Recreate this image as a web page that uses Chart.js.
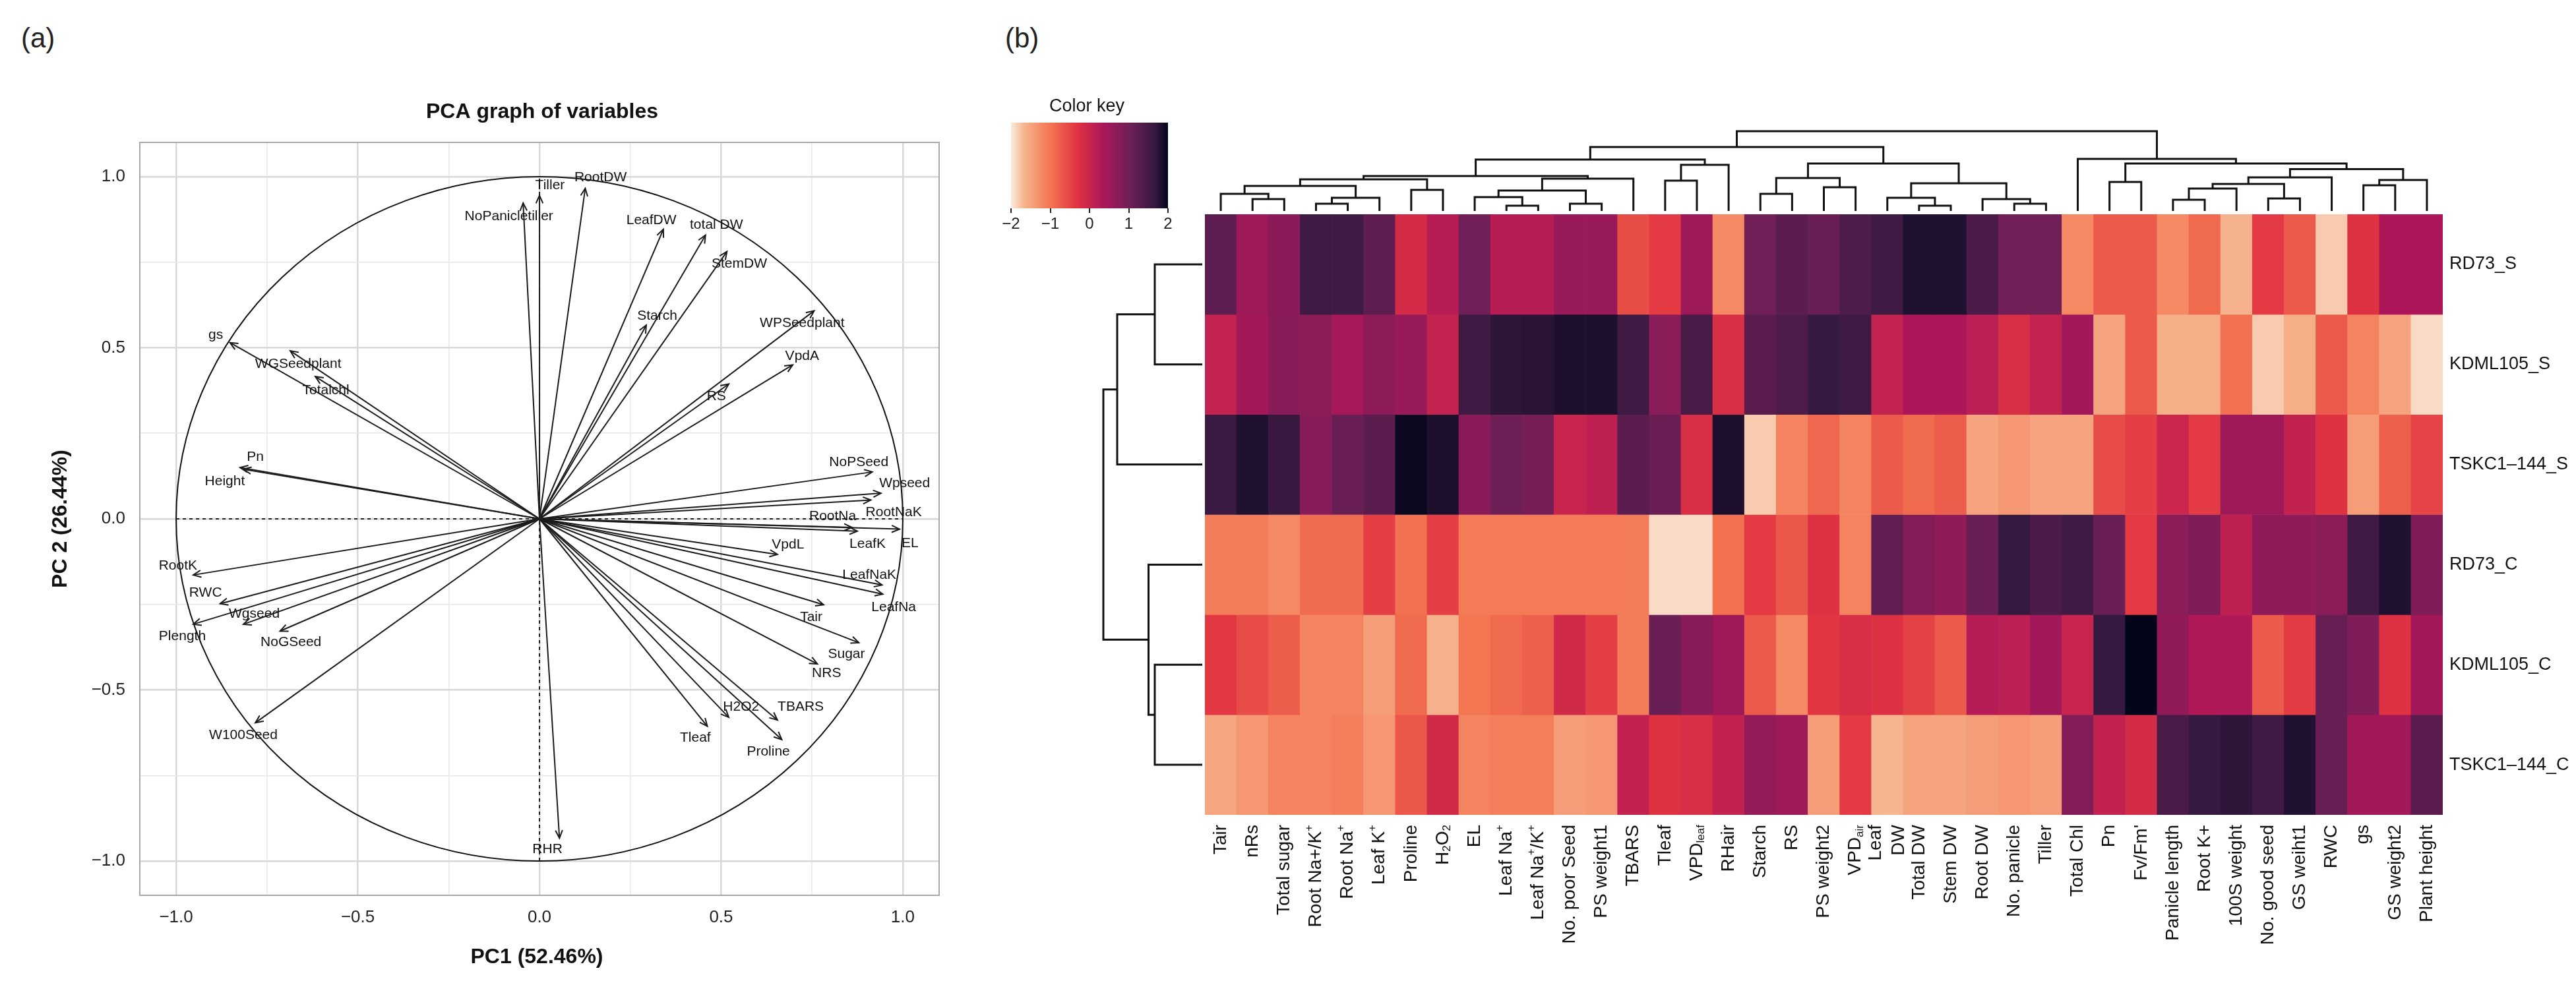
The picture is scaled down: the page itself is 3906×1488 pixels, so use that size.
<!DOCTYPE html>
<html>
<head>
<meta charset="utf-8">
<script src="https://cdn.jsdelivr.net/npm/chart.js@4.4.1/dist/chart.umd.min.js"></script>
<style>
  html, body { margin: 0; padding: 0; background: #fff; }
  body { width: 3906px; height: 1488px; position: relative; overflow: hidden; font-family: "Liberation Sans", Arial, sans-serif; }
  canvas { position: absolute; }
  .tag { position: absolute; font-size: 42px; line-height: 1; color: #222; }
</style>
</head>
<body>
<div class="tag" style="left:32px;top:37px">(a)</div>
<div class="tag" style="left:1524px;top:37px">(b)</div>
<canvas id="pca" width="1480" height="1488" style="left:0;top:0"></canvas>
<canvas id="key" width="300" height="230" style="left:1500px;top:140px"></canvas>
<canvas id="coltree" width="1877" height="145" style="left:1827px;top:180px"></canvas>
<canvas id="rowtree" width="167" height="911" style="left:1660px;top:325px"></canvas>
<canvas id="heat" width="2106" height="1188" style="left:1800px;top:300px"></canvas>
<script>
Chart.defaults.font.family = '"Liberation Sans", Arial, sans-serif';
const FONT = '"Liberation Sans", Arial, sans-serif';

// ---------- (a) PCA graph of variables ----------
const pcaVars = ['RootDW', 'Tiller', 'NoPanicletiller', 'LeafDW', 'total DW', 'StemDW', 'Starch',
  'WPSeedplant', 'VpdA', 'RS', 'gs', 'WGSeedplant', 'Totalchl', 'Pn', 'Height', 'NoPSeed', 'Wpseed',
  'RootNaK', 'RootNa', 'LeafK', 'EL', 'VpdL', 'LeafNaK', 'LeafNa', 'Tair', 'Sugar', 'NRS', 'H2O2',
  'TBARS', 'Tleaf', 'Proline', 'RHR', 'RootK', 'RWC', 'Wgseed', 'Plength', 'NoGSeed', 'W100Seed'];
const pc1 = [0.126, 0.0, -0.045, 0.341, 0.457, 0.516, 0.294, 0.756, 0.697, 0.521, -0.852, -0.686, -0.617,
  -0.824, -0.815, 0.916, 0.94, 0.912, 0.86, 0.875, 0.991, 0.655, 0.943, 0.945, 0.782, 0.879, 0.765, 0.521,
  0.655, 0.462, 0.667, 0.055, -0.953, -0.879, -0.815, -0.953, -0.714, -0.782];
const pc2 = [0.966, 0.945, 0.923, 0.846, 0.829, 0.781, 0.566, 0.608, 0.45, 0.394, 0.515, 0.491, 0.416,
  0.150, 0.145, 0.137, 0.075, 0.055, -0.025, -0.036, -0.03, -0.104, -0.193, -0.22, -0.251, -0.362, -0.424, -0.58,
  -0.588, -0.606, -0.645, -0.933, -0.164, -0.248, -0.308, -0.308, -0.328, -0.596];
// where each name is written
const labelX = [0.168, 0.029, -0.084, 0.308, 0.487, 0.55, 0.324, 0.723, 0.723, 0.487, -0.891, -0.664, -0.588,
  -0.782, -0.866, 0.879, 1.005, 0.975, 0.807, 0.903, 1.02, 0.684, 0.908, 0.975, 0.748, 0.845, 0.79, 0.555,
  0.719, 0.429, 0.63, 0.022, -0.995, -0.919, -0.785, -0.983, -0.684, -0.815];
const labelY = [0.998, 0.975, 0.883, 0.873, 0.859, 0.745, 0.592, 0.571, 0.476, 0.358, 0.538, 0.453, 0.375,
  0.181, 0.109, 0.166, 0.104, 0.019, 0.008, -0.074, -0.071, -0.076, -0.164, -0.258, -0.287, -0.395, -0.452, -0.549,
  -0.549, -0.64, -0.681, -0.966, -0.138, -0.217, -0.277, -0.344, -0.361, -0.632];
const gridTicks = [-1, -0.75, -0.5, -0.25, 0, 0.25, 0.5, 0.75, 1];
const unitR = 1;

function isMajor(v) { return Math.abs(v * 2 - Math.round(v * 2)) < 1e-9; }
function tickText(v) {
  if (!isMajor(v)) return '';
  return (v < 0 ? '\u2212' : '') + Math.abs(v).toFixed(1);
}
const gridOpts = {
  drawTicks: false,
  color: c => (c.tick && isMajor(c.tick.value)) ? '#D8D8D8' : '#E8E8E8',
  lineWidth: c => (c.tick && isMajor(c.tick.value)) ? 2.5 : 1.5
};

const pcaDecor = {
  id: 'pcaDecor',
  beforeDatasetsDraw(chart) {
    const { ctx, scales: { x, y } } = chart;
    const cx = x.getPixelForValue(0), cy = y.getPixelForValue(0);
    ctx.save();
    ctx.strokeStyle = '#111';
    ctx.lineWidth = 2;
    ctx.beginPath();
    ctx.ellipse(cx, cy, x.getPixelForValue(unitR) - cx, cy - y.getPixelForValue(unitR), 0, 0, Math.PI * 2);
    ctx.stroke();
    ctx.restore();
  },
  afterDatasetsDraw(chart) {
    const { ctx, scales: { x, y } } = chart;
    const ox = x.getPixelForValue(0), oy = y.getPixelForValue(0);
    ctx.save();
    ctx.strokeStyle = '#1b1b1b';
    ctx.lineWidth = 2;
    pcaVars.forEach((n, i) => {
      const tx = x.getPixelForValue(pc1[i]), ty = y.getPixelForValue(pc2[i]);
      const a = Math.atan2(ty - oy, tx - ox);
      ctx.beginPath();
      ctx.moveTo(tx - 13 * Math.cos(a - 0.42), ty - 13 * Math.sin(a - 0.42));
      ctx.lineTo(tx, ty);
      ctx.lineTo(tx - 13 * Math.cos(a + 0.42), ty - 13 * Math.sin(a + 0.42));
      ctx.stroke();
    });
    ctx.fillStyle = '#111';
    ctx.font = '21px ' + FONT;
    ctx.textAlign = 'center';
    ctx.textBaseline = 'middle';
    pcaVars.forEach((n, i) => {
      ctx.fillText(n, x.getPixelForValue(labelX[i]), y.getPixelForValue(labelY[i]));
    });
    ctx.restore();
  },
  afterDraw(chart) {
    const { ctx, chartArea: a } = chart;
    ctx.save();
    ctx.strokeStyle = '#A8A8A8';
    ctx.lineWidth = 2;
    ctx.strokeRect(a.left, a.top, a.right - a.left, a.bottom - a.top);
    ctx.fillStyle = '#111';
    ctx.textAlign = 'center';
    ctx.textBaseline = 'middle';
    ctx.font = 'bold 32px ' + FONT;
    const mx = (a.left + a.right) / 2, my = (a.top + a.bottom) / 2;
    ctx.fillText('PCA graph of variables', mx + 4, 170);
    ctx.fillText('PC1 (52.46%)', mx - 4, 1452);
    ctx.translate(92, my);
    ctx.rotate(-Math.PI / 2);
    ctx.fillText('PC 2 (26.44%)', 0, 0);
    ctx.restore();
  }
};

const dashed = { showLine: true, borderColor: '#222', borderWidth: 2, borderDash: [5, 5], pointRadius: 0 };
new Chart(document.getElementById('pca'), {
  type: 'scatter',
  data: {
    datasets: [
      Object.assign({ data: [{ x: -unitR, y: 0 }, { x: unitR, y: 0 }] }, dashed),
      Object.assign({ data: [{ x: 0, y: -unitR }, { x: 0, y: unitR }] }, dashed)
    ].concat(pcaVars.map((n, i) => ({
      label: n,
      data: [{ x: 0, y: 0 }, { x: pc1[i], y: pc2[i] }],
      showLine: true, borderColor: '#1b1b1b', borderWidth: 2, pointRadius: 0
    })))
  },
  options: {
    responsive: false, animation: false,
    layout: { padding: { left: 0, top: 216, right: 56, bottom: 0 } },
    plugins: { legend: { display: false }, tooltip: { enabled: false } },
    scales: {
      x: {
        type: 'linear', min: -1.1, max: 1.1,
        afterBuildTicks: s => { s.ticks = gridTicks.map(v => ({ value: v })); },
        afterFit: s => { s.height = 130; },
        border: { display: false }, grid: gridOpts,
        ticks: { autoSkip: false, maxRotation: 0, padding: 18, color: '#222', font: { size: 26 }, callback: v => tickText(v) }
      },
      y: {
        type: 'linear', min: -1.1, max: 1.1,
        afterBuildTicks: s => { s.ticks = gridTicks.map(v => ({ value: v })); },
        afterFit: s => { s.width = 212; },
        border: { display: false }, grid: gridOpts,
        ticks: { autoSkip: false, padding: 22, color: '#222', font: { size: 26 }, callback: v => tickText(v) }
      }
    }
  },
  plugins: [pcaDecor]
});

// ---------- (b) heatmap ----------
const traitLabels = ['Tair', 'nRs', 'Total sugar', 'Root Na+/K^{+}', 'Root Na^{+}', 'Leaf K^{+}', 'Proline',
  'H_{2}O_{2}', 'EL', 'Leaf Na^{+}', 'Leaf Na^{+}/K^{+}', 'No. poor Seed', 'PS weight1', 'TBARS', 'Tleaf',
  'VPD_{leaf}', 'RHair', 'Starch', 'RS', 'PS weight2', 'VPD_{air}', 'Leaf\nDW', 'Total DW', 'Stem DW',
  'Root DW', 'No. panicle', 'Tiller', 'Total Chl', 'Pn', "Fv/Fm'", 'Panicle length', 'Root K+',
  '100S weight', 'No. good seed', 'GS weiht1', 'RWC', 'gs', 'GS weight2', 'Plant height'];
const sampleNames = ['RD73_S', 'KDML105_S', 'TSKC1\u2013144_S', 'RD73_C', 'KDML105_C', 'TSKC1\u2013144_C'];

const rd73S = [1.2, 0.5, 0.7, 1.55, 1.55, 1.2, -0.15, 0.2, 1.0, 0.2, 0.2, 0.55, 0.55, -0.6, -0.4, 0.5, -1.2,
  1.0, 1.25, 1.1, 1.38, 1.55, 1.8, 1.8, 1.4, 1.0, 1.0, -1.2, -0.72, -0.72, -1.2, -0.88, -1.65, -0.4, -0.72,
  -1.8, -0.3, 0.33, 0.33];
const kdml105S = [0.05, 0.45, 0.75, 0.72, 0.4, 0.68, 0.55, 0.05, 1.55, 1.72, 1.75, 1.82, 1.82, 1.55, 0.72,
  1.42, -0.22, 1.25, 1.38, 1.67, 1.55, 0.05, 0.33, 0.33, 0.15, -0.22, 0.05, 0.45, -1.5, -0.72, -1.6, -1.6,
  -0.95, -1.8, -1.6, -0.72, -1.15, -1.5, -1.9];
const tskc1S = [1.6, 1.8, 1.62, 0.75, 1.08, 1.25, 1.95, 1.82, 0.73, 1.02, 0.92, 0.0, 0.12, 1.25, 1.08, -0.22,
  1.82, -1.8, -1.15, -0.85, -1.15, -0.72, -0.88, -0.75, -1.5, -1.35, -1.5, -1.5, -0.58, -0.45, -0.05, -0.4,
  0.5, 0.5, 0.08, -0.3, -1.42, -0.78, -0.5];
const rd73C = [-1.08, -1.08, -1.2, -0.9, -0.9, -0.45, -0.95, -0.45, -1.05, -1.05, -1.05, -1.05, -1.05, -1.08,
  -1.9, -1.9, -0.95, -0.4, -0.68, -0.3, -1.15, 1.15, 0.8, 0.65, 1.08, 1.67, 1.4, 1.55, 1.08, -0.4, 0.72, 0.85,
  0.12, 0.65, 0.65, 0.72, 1.55, 1.8, 0.85];
const kdml105C = [-0.38, -0.58, -0.75, -1.15, -1.15, -1.42, -0.88, -1.63, -1.0, -0.88, -0.78, -0.12, -0.45,
  -1.08, 1.08, 0.75, 0.5, -0.72, -1.2, -0.35, -0.22, -0.28, -0.48, -0.72, 0.22, 0.15, 0.45, 0.0, 1.67, 2.0,
  0.65, 0.3, 0.3, -0.72, -0.42, 1.1, 0.85, -0.3, 0.45];
const tskc1C = [-1.52, -1.35, -1.15, -1.15, -1.1, -1.35, -0.7, -0.12, -1.15, -1.1, -1.1, -1.42, -1.35, 0.08,
  -0.3, -0.22, 0.08, 0.6, 0.5, -1.42, -0.4, -1.67, -1.5, -1.5, -1.42, -1.35, -1.42, 0.8, 0.08, -0.15, 1.42,
  1.67, 1.72, 1.55, 1.8, 1.1, 0.45, 0.45, 1.25];
const heatRows = [rd73S, kdml105S, tskc1S, rd73C, kdml105C, tskc1C];
const keyTicks = [-2, -1, 0, 1, 2];

// reversed "rocket" palette
const paletteStops = [[-2, '#FAEBDD'], [-1.667, '#F6B48F'], [-1, '#F37651'], [-0.333, '#E13342'],
  [0.333, '#AD1759'], [1, '#701F57'], [1.667, '#35193E'], [2, '#03051A']];
function hexRgb(h) { return [1, 3, 5].map(k => parseInt(h.substr(k, 2), 16)); }
function colorFor(v) {
  v = Math.max(-2, Math.min(2, v));
  for (let i = 0; i < paletteStops.length - 1; i++) {
    const [v0, c0] = paletteStops[i], [v1, c1] = paletteStops[i + 1];
    if (v <= v1) {
      const t = (v - v0) / (v1 - v0), a = hexRgb(c0), b = hexRgb(c1);
      return 'rgb(' + a.map((q, k) => Math.round(q + (b[k] - q) * t)).join(',') + ')';
    }
  }
  return paletteStops[paletteStops.length - 1][1];
}

function richParts(s) {
  const parts = [];
  const re = /\^\{([^}]*)\}|_\{([^}]*)\}|([^\^_]+)/g;
  let m;
  while ((m = re.exec(s))) {
    if (m[1] !== undefined) parts.push({ t: m[1], k: 'sup' });
    else if (m[2] !== undefined) parts.push({ t: m[2], k: 'sub' });
    else parts.push({ t: m[3], k: 'n' });
  }
  return parts;
}
function drawRich(ctx, s, x, y, size, align) {
  const parts = richParts(s);
  const font = k => (k === 'n' ? size : Math.round(size * 0.62)) + 'px ' + FONT;
  let w = 0;
  parts.forEach(p => { ctx.font = font(p.k); p.w = ctx.measureText(p.t).width; w += p.w; });
  let cx = align === 'right' ? x - w : (align === 'center' ? x - w / 2 : x);
  ctx.textAlign = 'left';
  ctx.textBaseline = 'middle';
  parts.forEach(p => {
    ctx.font = font(p.k);
    const dy = p.k === 'sup' ? -0.36 * size : (p.k === 'sub' ? 0.24 * size : 0);
    ctx.fillText(p.t, cx, y + dy);
    cx += p.w;
  });
}

const heatLabels = {
  id: 'heatLabels',
  afterDraw(chart) {
    const { ctx, chartArea: a, scales: { x, y } } = chart;
    ctx.save();
    ctx.fillStyle = '#111';
    ctx.font = '27px ' + FONT;
    ctx.textAlign = 'left';
    ctx.textBaseline = 'middle';
    sampleNames.forEach((s, r) => ctx.fillText(s, a.right + 10, y.getPixelForValue(r + 0.5)));
    traitLabels.forEach((lab, i) => {
      const lines = lab.split('\n');
      lines.forEach((ln, j) => {
        const off = (j - (lines.length - 1) / 2) * 35;
        ctx.save();
        ctx.translate(x.getPixelForValue(i) + off, a.bottom + 15);
        ctx.rotate(-Math.PI / 2);
        drawRich(ctx, ln, 0, 0, 28, 'right');
        ctx.restore();
      });
    });
    ctx.restore();
  }
};

new Chart(document.getElementById('heat'), {
  type: 'bar',
  data: {
    labels: traitLabels,
    datasets: sampleNames.map((s, r) => ({
      label: s,
      data: traitLabels.map(() => 1),
      backgroundColor: heatRows[r].map(colorFor),
      borderWidth: 0, barPercentage: 1, categoryPercentage: 1
    }))
  },
  options: {
    responsive: false, animation: false,
    layout: { padding: { left: 27, top: 25, right: 202, bottom: 252 } },
    plugins: { legend: { display: false }, tooltip: { enabled: false } },
    scales: {
      x: { stacked: true, display: false },
      y: { stacked: true, display: false, min: 0, max: 6, reverse: true }
    }
  },
  plugins: [heatLabels]
});

// colour key
const keyGradient = {
  id: 'keyGradient',
  beforeDatasetsDraw(chart) {
    const { ctx, chartArea: a, scales: { x } } = chart;
    const g = ctx.createLinearGradient(x.getPixelForValue(-2), 0, x.getPixelForValue(2), 0);
    paletteStops.forEach(([v, c]) => g.addColorStop((v + 2) / 4, c));
    ctx.save();
    ctx.fillStyle = g;
    ctx.fillRect(a.left, a.top, a.right - a.left, a.bottom - a.top);
    ctx.fillStyle = '#111';
    ctx.font = '27px ' + FONT;
    ctx.textAlign = 'center';
    ctx.textBaseline = 'middle';
    ctx.fillText('Color key', (a.left + a.right) / 2 - 4, 22);
    ctx.restore();
  }
};
new Chart(document.getElementById('key'), {
  type: 'scatter',
  data: { datasets: [] },
  options: {
    responsive: false, animation: false,
    layout: { padding: { left: 33, top: 46, right: 29, bottom: 0 } },
    plugins: { legend: { display: false }, tooltip: { enabled: false } },
    scales: {
      x: {
        type: 'linear', min: -2, max: 2,
        afterBuildTicks: s => { s.ticks = keyTicks.map(v => ({ value: v })); },
        afterFit: s => { s.height = 54; },
        border: { display: false },
        grid: { drawOnChartArea: false, drawTicks: true, tickLength: 7, color: '#222', lineWidth: 2 },
        ticks: { autoSkip: false, maxRotation: 0, padding: 3, color: '#222', font: { size: 24 },
          callback: v => (v < 0 ? '\u2212' : '') + Math.abs(v) }
      },
      y: { display: false, min: 0, max: 1 }
    }
  },
  plugins: [keyGradient]
});

// dendrograms (hclust-style merge lists, leaves in display order)
const colMerges = [[-2, -3], [-1, 1], [-4, -5], [3, -6], [2, 4], [-7, -8], [5, 6], [-10, -11], [-9, 8],
  [-12, -13], [9, 10], [11, -14], [7, 12], [-15, -16], [14, -17], [13, 15], [-18, -19], [-20, -21], [17, 18],
  [-23, -24], [-22, 20], [-26, -27], [-25, 22], [21, 23], [19, 24], [16, 25], [-29, -30], [-31, -32], [28, -33],
  [-34, -35], [29, 30], [31, -36], [-37, -38], [33, -39], [32, 34], [27, 35], [-28, 36], [26, 37]];
const colHeights = [23, 31, 16, 25, 43, 37, 53, 13, 26, 16, 36, 54, 58, 51, 75, 83, 31, 41, 55, 13, 25, 16,
  23, 47, 77, 102, 49, 22, 39, 24, 46, 56, 44, 52, 68.5, 77, 84, 126];
const rowMerges = [[-1, -2], [1, -3], [-5, -6], [-4, 3], [2, 4]];
const rowHeights = [76, 133, 76, 85.5, 154];

function treeSegments(merges, heights, base) {
  const pos = [], hgt = [], segs = [];
  const at = k => (k < 0 ? [-k, base] : [pos[k - 1], hgt[k - 1]]);
  merges.forEach(([a, b], i) => {
    const [pa, ha] = at(a), [pb, hb] = at(b), h = heights[i];
    segs.push([[pa, ha], [pa, h], [pb, h], [pb, hb]]);
    pos.push((pa + pb) / 2);
    hgt.push(h);
  });
  return segs;
}
const treeLine = { showLine: true, borderColor: '#111', borderWidth: 3, pointRadius: 0, clip: false };
const bare = { responsive: false, animation: false, layout: { padding: 0 },
  plugins: { legend: { display: false }, tooltip: { enabled: false } } };

new Chart(document.getElementById('coltree'), {
  type: 'scatter',
  data: { datasets: treeSegments(colMerges, colHeights, 5).map(sg =>
    Object.assign({ data: sg.map(([p, h]) => ({ x: p, y: h })) }, treeLine)) },
  options: Object.assign({}, bare, { scales: {
    x: { type: 'linear', display: false, min: 0.5, max: traitLabels.length + 0.5 },
    y: { type: 'linear', display: false, min: 0, max: 145 }
  } })
});

new Chart(document.getElementById('rowtree'), {
  type: 'scatter',
  data: { datasets: treeSegments(rowMerges, rowHeights, 4).map(sg =>
    Object.assign({ data: sg.map(([p, h]) => ({ x: h, y: p })) }, treeLine)) },
  options: Object.assign({}, bare, { scales: {
    x: { type: 'linear', display: false, min: 0, max: 167, reverse: true },
    y: { type: 'linear', display: false, min: 0.5, max: sampleNames.length + 0.5, reverse: true }
  } })
});
</script>
</body>
</html>
